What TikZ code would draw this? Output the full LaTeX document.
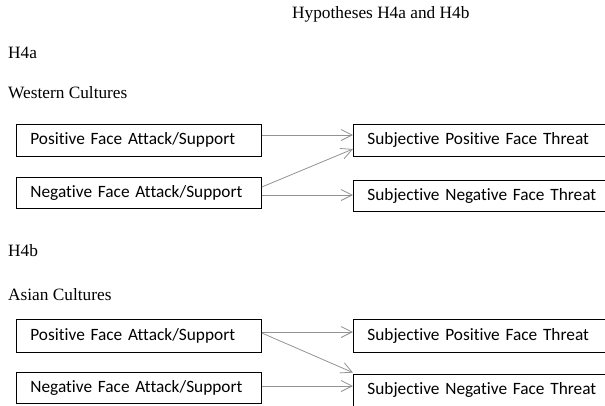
\documentclass[tikz,border=0pt]{standalone}
\usepackage{fontspec}
\setmainfont{Liberation Serif}
\newfontfamily\boxfont[Ligatures=NoCommon]{Carlito}
\usetikzlibrary{arrows.meta}
\tikzset{
	lbl/.style={anchor=base west, inner sep=0pt, font=\fontsize{17.3}{20}\selectfont},
	fbox/.style={draw, line width=0.8pt, anchor=west, minimum height=32pt, inner xsep=14pt, inner ysep=0pt, text width=217pt, align=left, font=\boxfont\fontsize{17.3}{20}\selectfont},
	rbox/.style={fbox, text width=300pt},
	arr/.style={draw=gray!85, line width=0.8pt, -{Straight Barb[length=11pt, width=11pt]}}
}
\begin{document}
\begin{tikzpicture}[x=1pt, y=-1pt]
		\useasboundingbox (0,0) rectangle (605,405);
		\clip (0,0) rectangle (605,405);
		\node[lbl] (title) at (292,18) {Hypotheses H4a and H4b};
		\node[lbl] (ha) at (8,58) {H4a};
		\node[lbl] (west) at (8,98) {Western Cultures};
		\node[fbox] (pa) at (16,140) {Positive Face Attack/Support};
		\node[fbox, minimum height=31pt] (na) at (16,192.5) {Negative Face Attack/Support};
		\node[rbox] (rp) at (353,140) {Subjective Positive Face Threat};
		\node[rbox, minimum height=31pt] (rn) at (353,195.5) {Subjective Negative Face Threat};
		\draw[arr] ([yshift=5pt]pa.east) -- ([yshift=5pt]rp.west);
		\draw[arr] ([yshift=5.5pt]na.east) -- ([yshift=-9pt]rp.west);
		\draw[arr] ([yshift=-2.5pt]na.east) -- ([yshift=0.5pt]rn.west);
		\node[lbl] (hb) at (8,256) {H4b};
		\node[lbl] (asia) at (8,300) {Asian Cultures};
		\node[fbox, minimum height=33pt] (pb) at (16,335.5) {Positive Face Attack/Support};
		\node[fbox, minimum height=31pt] (nb) at (16,387.5) {Negative Face Attack/Support};
		\node[rbox, minimum height=33pt] (rpb) at (353,335.5) {Subjective Positive Face Threat};
		\node[rbox] (rnb) at (353,390) {Subjective Negative Face Threat};
		\draw[arr] ([yshift=3.5pt]pb.east) -- ([yshift=3.5pt]rpb.west);
		\draw[arr] ([yshift=2.5pt]pb.east) -- ([yshift=1pt]rnb.north west);
		\draw[arr] ([yshift=1.5pt]nb.east) -- ([yshift=4pt]rnb.west);
	\end{tikzpicture}
\end{document}
